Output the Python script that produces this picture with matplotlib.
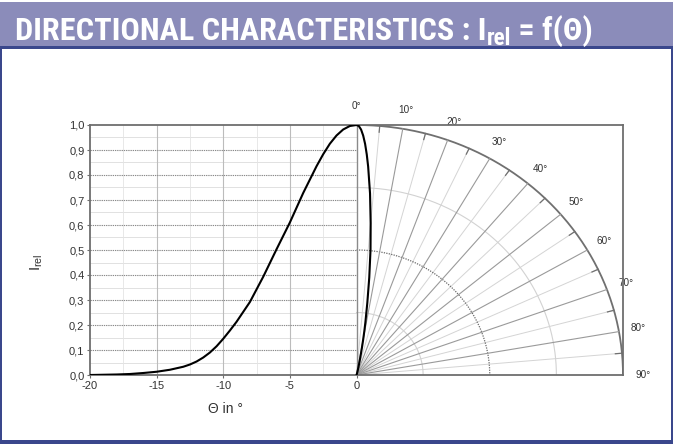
import numpy as np
import matplotlib
matplotlib.use("Agg")
import matplotlib.pyplot as plt
from matplotlib.patches import Rectangle
import matplotlib.font_manager as fm
from matplotlib.font_manager import FontProperties

# ---------------- data ----------------
theta_deg = [-20, -19, -18, -17, -16, -15, -14, -13, -12.5, -12, -11.5, -11,
             -10.5, -10, -9.5, -9, -8, -7, -6, -5, -4, -3, -2.5, -2, -1.5, -1, -0.5, 0]
i_rel = [0.000, 0.001, 0.002, 0.004, 0.008, 0.013, 0.021, 0.033, 0.042, 0.054,
         0.070, 0.090, 0.115, 0.145, 0.178, 0.213, 0.292, 0.393, 0.503, 0.610,
         0.728, 0.835, 0.883, 0.925, 0.958, 0.982, 0.996, 1.000]
y_ticks = [0.0, 0.1, 0.2, 0.3, 0.4, 0.5, 0.6, 0.7, 0.8, 0.9, 1.0]
x_ticks = [-20, -15, -10, -5, 0]
polar_label_deg = [0, 10, 20, 30, 40, 50, 60, 70, 80, 90]
polar_circles = [0.25, 0.5, 0.75, 1.0]
title_main = "DIRECTIONAL CHARACTERISTICS : I"
title_sub = "rel"
title_end = " = f(\u0398)"

W, H = 673, 444
fig = plt.figure(figsize=(W / 100, H / 100), dpi=100)
fig.patch.set_facecolor("white")


def fx(px):
    return px / W


def fy(py):
    return 1 - py / H


def frect(x0, y0, x1, y1, color):
    fig.patches.append(Rectangle((fx(x0), fy(y1)), (x1 - x0) / W, (y1 - y0) / H,
                                 transform=fig.transFigure, figure=fig,
                                 facecolor=color, edgecolor="none", zorder=0))


BLUE = "#3a478c"
frect(0, 2, W, 46, "#8b8cba")
frect(0, 46, W, 49, BLUE)
frect(0, 46, 2, H, BLUE)
frect(W - 2, 46, W, H, BLUE)
frect(0, 440, W, H, BLUE)

# ---------------- main axes ----------------
ax = fig.add_axes([fx(90), fy(375), 533 / W, 250 / H])
XS = -x_ticks[0]          # horizontal size of the polar radius in data units
ax.set_xlim(-XS, XS)
ax.set_ylim(0, 1)
for s in ax.spines.values():
    s.set_color("#6e6e6e")
    s.set_linewidth(1.3)
    s.set_zorder(5)

lab_font = dict(family=["Liberation Sans", "DejaVu Sans"], size=8, color="#333333")
ax.set_yticks(y_ticks)
ax.set_yticklabels([f"{v:.1f}".replace(".", ",") for v in y_ticks], **lab_font)
ax.set_xticks(x_ticks)
ax.set_xticklabels([str(v) for v in x_ticks], **lab_font)
ax.tick_params(length=2.5, width=0.8, color="#6e6e6e", pad=1.5)

# left cartesian grid
yt = np.array(y_ticks)
for y in (yt[:-1] + yt[1:]) / 2:
    ax.plot([x_ticks[0], 0], [y, y], color="#dcdcdc", lw=0.6, zorder=1)
for y in yt[1:-1]:
    ax.plot([x_ticks[0], 0], [y, y], color="#8a8a8a", lw=0.8, ls=(0, (1.2, 0.8)), zorder=2)
xt = np.array(x_ticks, dtype=float)
for x in (xt[:-1] + xt[1:]) / 2:
    ax.plot([x, x], [0, 1], color="#e4e4e4", lw=0.6, zorder=1)
for x in xt[1:-1]:
    ax.plot([x, x], [0, 1], color="#bcbcbc", lw=0.8, zorder=1)
ax.plot([0, 0], [0, 1], color="#8a8a8a", lw=1.0, zorder=3)

# polar grid on the right
phi = np.radians(np.linspace(0, 90, 300))
for r in polar_circles:
    if r == 1.0:
        kw = dict(color="#707070", lw=1.3)
    elif r == 0.5:
        kw = dict(color="#6a6a6a", lw=0.9, ls=(0, (1, 1)))
    else:
        kw = dict(color="#d2d2d2", lw=0.8)
    ax.plot(XS * r * np.sin(phi), r * np.cos(phi), zorder=2, **kw)

for a in range(5, 90, 5):
    t = np.radians(a)
    if a % 10 == 0:
        ax.plot([0, XS * np.sin(t)], [0, np.cos(t)], color="#9a9a9a", lw=0.8, zorder=2)
    else:
        ax.plot([0, XS * np.sin(t)], [0, np.cos(t)], color="#d4d4d4", lw=0.7, zorder=1)
        ax.plot([XS * 0.975 * np.sin(t), XS * np.sin(t)], [0.975 * np.cos(t), np.cos(t)],
                color="#707070", lw=0.9, zorder=2)

for a in polar_label_deg:
    t = np.radians(a)
    R = 1.075
    ax.text(XS * R * np.sin(t), R * np.cos(t), f"{a}\u00b0", ha="center", va="center",
            clip_on=False, family=["Liberation Sans", "DejaVu Sans"], size=7.2, color="#333333")

# curves
th = np.array(theta_deg, dtype=float)
ir = np.array(i_rel)
ax.plot(th, ir, color="black", lw=1.5, zorder=6, solid_capstyle="round",
        solid_joinstyle="round")
ang = np.radians(-th)
ax.plot(XS * ir * np.sin(ang), ir * np.cos(ang), color="black", lw=1.5, zorder=6,
        solid_capstyle="round", solid_joinstyle="round")

# axis labels
fig.text(fx(37), fy(262), r"I$_{\mathregular{rel}}$", rotation=90, ha="center", va="center",
         family=["Liberation Sans", "DejaVu Sans"], size=11, color="#333333")
fig.text(fx(226), fy(409), "\u0398 in \u00b0", ha="center", va="center",
         family=["Liberation Sans", "DejaVu Sans"], size=10, color="#333333")


# ---------------- title ----------------
def pick_font():
    def wt(f):
        return f.weight if isinstance(f.weight, int) else fm.weight_dict.get(f.weight, 400)
    fl = fm.fontManager.ttflist
    for name in ("Roboto Condensed", "Liberation Sans Narrow", "Open Sans Condensed"):
        for f in fl:
            if f.name == name and wt(f) >= 600 and f.style == "normal":
                return FontProperties(fname=f.fname)
    for f in fl:
        if ("Condensed" in f.name or "Narrow" in f.name or str(f.stretch) == "condensed") \
                and wt(f) >= 600 and f.style == "normal":
            return FontProperties(fname=f.fname)
    for f in fl:
        if f.name == "Roboto" and wt(f) == 700 and f.style == "normal":
            return FontProperties(fname=f.fname)
    return FontProperties(family="Liberation Sans", weight="bold")


base_fp = pick_font()
renderer = fig.canvas.get_renderer()
size0 = 26.0
x_left, x_right, baseline = 15, 590, 40
pieces = [(title_main, 1.0, 0), (title_sub, 0.72, 5), (title_end, 1.0, 0)]
texts = []
for s, k, dy in pieces:
    fp = base_fp.copy()
    fp.set_size(size0 * k)
    t = fig.text(0, fy(baseline + dy), s, fontproperties=fp, color="white",
                 ha="left", va="baseline")
    texts.append(t)
total = sum(t.get_window_extent(renderer).width for t in texts)
scale = (x_right - x_left) / total
scale = min(scale, 1.15)
x = x_left
for (s, k, dy), t in zip(pieces, texts):
    t.set_fontsize(size0 * k * scale)
    t.set_x(fx(x))
    x += t.get_window_extent(renderer).width

fig.savefig("out.png", dpi=100, facecolor="white")
